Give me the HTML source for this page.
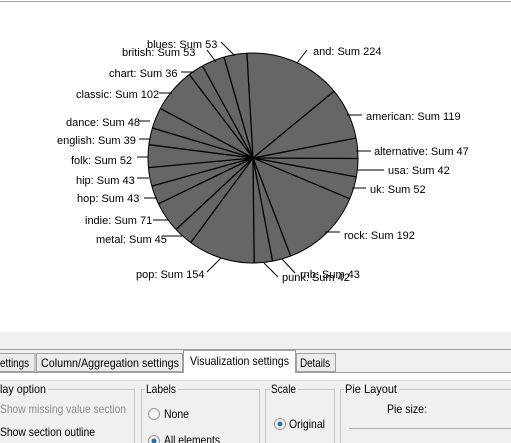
<!DOCTYPE html>
<html><head><meta charset="utf-8"><style>
html,body{margin:0;padding:0;width:511px;height:443px;overflow:hidden;background:#fff;font-family:"Liberation Sans",sans-serif;}
.lbl{font-size:11px;fill:#000;dominant-baseline:central;}
.ui{font-size:12px;}
.ui text{dominant-baseline:central;}
</style></head><body>
<svg width="511" height="443" viewBox="0 0 511 443" style="position:absolute;left:0;top:0">
<rect x="0" y="0" width="511" height="332" fill="#fff"/>
<line x1="0" y1="1.5" x2="511" y2="1.5" stroke="#a0a0a0"/>
<circle cx="253" cy="158" r="105" fill="#666" stroke="#000" stroke-width="1"/>
<g stroke="#000" stroke-width="1.3">
<line x1="253" y1="158" x2="246.9" y2="53.2"/>
<line x1="253" y1="158" x2="334" y2="91.2"/>
<line x1="253" y1="158" x2="356.1" y2="138"/>
<line x1="253" y1="158" x2="358" y2="158.5"/>
<line x1="253" y1="158" x2="356.3" y2="176.9"/>
<line x1="253" y1="158" x2="349.8" y2="198.8"/>
<line x1="253" y1="158" x2="290.7" y2="256"/>
<line x1="253" y1="158" x2="272.6" y2="261.2"/>
<line x1="253" y1="158" x2="254.2" y2="263"/>
<line x1="253" y1="158" x2="190.8" y2="242.6"/>
<line x1="253" y1="158" x2="176.1" y2="229.5"/>
<line x1="253" y1="158" x2="158.5" y2="203.8"/>
<line x1="253" y1="158" x2="151.8" y2="186.1"/>
<line x1="253" y1="158" x2="148.4" y2="167.6"/>
<line x1="253" y1="158" x2="148.8" y2="144.7"/>
<line x1="253" y1="158" x2="152.4" y2="128"/>
<line x1="253" y1="158" x2="160.4" y2="108.5"/>
<line x1="253" y1="158" x2="189.3" y2="74.6"/>
<line x1="253" y1="158" x2="202.5" y2="65.9"/>
<line x1="253" y1="158" x2="224" y2="57.1"/>
</g>
<g stroke="#000" stroke-width="1">
<line x1="297" y1="63" x2="307" y2="50"/>
<line x1="347" y1="115" x2="362" y2="115"/>
<line x1="356" y1="151" x2="371" y2="151"/>
<line x1="357" y1="170" x2="384" y2="170"/>
<line x1="352" y1="188" x2="366" y2="188"/>
<line x1="325" y1="232" x2="340" y2="232"/>
<line x1="282" y1="259" x2="295" y2="273"/>
<line x1="264" y1="263" x2="278" y2="277"/>
<line x1="207" y1="272" x2="221" y2="258"/>
<line x1="163" y1="236" x2="182" y2="236"/>
<line x1="153" y1="220" x2="168" y2="220"/>
<line x1="144" y1="198" x2="157" y2="198"/>
<line x1="137" y1="178" x2="149" y2="178"/>
<line x1="137" y1="157" x2="148" y2="157"/>
<line x1="139" y1="139" x2="150" y2="139"/>
<line x1="138" y1="121" x2="150" y2="121"/>
<line x1="159" y1="93" x2="172" y2="93"/>
<line x1="181" y1="72" x2="194" y2="72"/>
<line x1="207" y1="50" x2="216" y2="62"/>
<line x1="221" y1="42" x2="235" y2="56"/>
</g>
<g class="lbl">
<text x="313" y="52">and: Sum 224</text>
<text x="366" y="117">american: Sum 119</text>
<text x="374" y="152">alternative: Sum 47</text>
<text x="388" y="171">usa: Sum 42</text>
<text x="370" y="190">uk: Sum 52</text>
<text x="344" y="236">rock: Sum 192</text>
<text x="282" y="278">punk: Sum 42</text>
<text x="300" y="275">rnb: Sum 43</text>
<text x="136" y="275">pop: Sum 154</text>
<text x="96" y="240">metal: Sum 45</text>
<text x="85" y="221">indie: Sum 71</text>
<text x="77" y="199">hop: Sum 43</text>
<text x="76" y="181">hip: Sum 43</text>
<text x="71" y="161">folk: Sum 52</text>
<text x="57" y="141">english: Sum 39</text>
<text x="66" y="123">dance: Sum 48</text>
<text x="76" y="95">classic: Sum 102</text>
<text x="109" y="74">chart: Sum 36</text>
<text x="122" y="53">british: Sum 53</text>
<text x="147" y="45">blues: Sum 53</text>
</g>
<!-- bottom panel -->
<rect x="0" y="332" width="511" height="111" fill="#f0f0f0"/>
<line x1="0" y1="349.5" x2="511" y2="349.5" stroke="#a0a0a0"/>
<g class="ui">
<rect x="-5" y="353.5" width="40" height="18" fill="#ececec" stroke="#a0a0a0"/>
<text x="0" y="363" textLength="29" lengthAdjust="spacingAndGlyphs">ettings</text>
<rect x="36.5" y="353.5" width="146" height="18" fill="#ececec" stroke="#a0a0a0"/>
<text x="41" y="363" textLength="138" lengthAdjust="spacingAndGlyphs">Column/Aggregation settings</text>
<rect x="296.5" y="353.5" width="39" height="18" fill="#ececec" stroke="#a0a0a0"/>
<text x="300" y="363" textLength="30" lengthAdjust="spacingAndGlyphs">Details</text>
<line x1="0" y1="372.5" x2="511" y2="372.5" stroke="#a0a0a0"/>
<rect x="0" y="373" width="511" height="8" fill="#fff"/>
<line x1="0" y1="380.5" x2="511" y2="380.5" stroke="#dcdcdc"/>
<rect x="183.5" y="350.5" width="112" height="22" fill="#fff" stroke="#a0a0a0"/>
<rect x="184" y="371" width="111" height="3" fill="#fff"/>
<text x="190" y="361" textLength="99" lengthAdjust="spacingAndGlyphs">Visualization settings</text>
<g fill="none" stroke="#c8c8c8">
<rect x="-5.5" y="389.5" width="140" height="60"/>
<rect x="141.5" y="389.5" width="118" height="60"/>
<rect x="265.5" y="389.5" width="69" height="60"/>
<rect x="340.5" y="389.5" width="180" height="60"/>
</g>
<rect x="0" y="383" width="48" height="12" fill="#f0f0f0"/>
<text x="0" y="389" textLength="46" lengthAdjust="spacingAndGlyphs">lay option</text>
<rect x="145" y="383" width="33" height="12" fill="#f0f0f0"/>
<text x="146" y="389" textLength="30" lengthAdjust="spacingAndGlyphs">Labels</text>
<rect x="270" y="383" width="28" height="12" fill="#f0f0f0"/>
<text x="271" y="389" textLength="25" lengthAdjust="spacingAndGlyphs">Scale</text>
<rect x="344" y="383" width="55" height="12" fill="#f0f0f0"/>
<text x="345" y="389" textLength="52" lengthAdjust="spacingAndGlyphs">Pie Layout</text>
<text x="0" y="409" fill="#8c8c8c" textLength="126" lengthAdjust="spacingAndGlyphs">Show missing value section</text>
<text x="0" y="432" textLength="95" lengthAdjust="spacingAndGlyphs">Show section outline</text>
<circle cx="154" cy="414" r="5.5" fill="#f4f4f4" stroke="#999"/>
<text x="164" y="414" textLength="25" lengthAdjust="spacingAndGlyphs">None</text>
<circle cx="154" cy="441" r="5.5" fill="#f4f4f4" stroke="#999"/>
<circle cx="154" cy="441" r="2.5" fill="#1e6fb0"/>
<text x="164" y="440" textLength="56" lengthAdjust="spacingAndGlyphs">All elements</text>
<circle cx="280" cy="424" r="5.5" fill="#f4f4f4" stroke="#999"/>
<circle cx="280" cy="424" r="2.5" fill="#1e6fb0"/>
<text x="289" y="424" textLength="36" lengthAdjust="spacingAndGlyphs">Original</text>
<text x="387" y="409" textLength="40" lengthAdjust="spacingAndGlyphs">Pie size:</text>
<line x1="349" y1="428.5" x2="511" y2="428.5" stroke="#b0b0b0"/>
</g>
</svg>
</body></html>
